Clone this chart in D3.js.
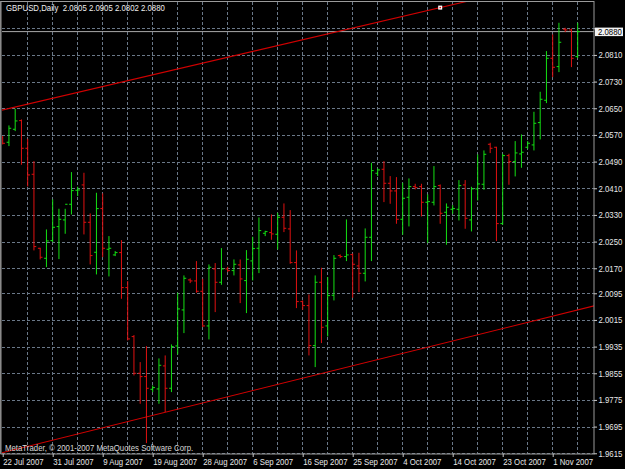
<!DOCTYPE html>
<html><head><meta charset="utf-8">
<script src="https://cdn.jsdelivr.net/npm/d3@7"></script>
<style>
html,body{margin:0;padding:0;background:#000;}
svg{display:block;}
text{font-family:"Liberation Sans",Arial,sans-serif;}
</style></head>
<body>
<script>
// ---- data ----
const symbolTitle = "GBPUSD,Daily  2.0805 2.0905 2.0802 2.0880";
const copyright = "MetaTrader, \u00A9 2001-2007 MetaQuotes Software Corp.";
const open = [2.0563,2.0548,2.0587,2.0613,2.0530,2.0452,2.0230,2.0200,2.0253,2.0295,
2.0315,2.0362,2.0404,2.0420,2.0308,2.0218,2.0349,2.0227,2.0210,2.0217,
2.0112,1.9965,1.9855,1.9845,1.9807,1.9808,1.9877,1.9810,1.9937,2.0045,
2.0135,2.0132,2.0101,1.9997,2.0168,2.0128,2.0168,2.0163,2.0180,2.0133,
2.0192,2.0230,2.0275,2.0277,2.0272,2.0323,2.0288,2.0187,2.0070,2.0058,
1.9938,2.0128,1.9997,2.0089,2.0208,2.0205,2.0211,2.0177,2.0155,2.0263,
2.0455,2.0467,2.0425,2.0402,2.0317,2.0383,2.0415,2.0415,2.0368,2.0368,
2.0418,2.0338,2.0347,2.0347,2.0420,2.0315,2.0408,2.0422,2.0542,2.0533,
2.0304,2.0508,2.0490,2.0513,2.0533,2.0540,2.0607,2.0674,2.0800,2.0775,
2.0887,2.0885,2.0805];
const high = [2.0565,2.0597,2.0647,2.0615,2.0557,2.0490,2.0230,2.0285,2.0375,2.0347,
2.0347,2.0457,2.0413,2.0455,2.0333,2.0395,2.0393,2.0265,2.0220,2.0253,
2.0130,1.9968,1.9887,1.9935,1.9817,1.9898,1.9907,1.9940,2.0095,2.0147,
2.0138,2.0190,2.0137,2.0180,2.0184,2.0229,2.0173,2.0195,2.0195,2.0223,
2.0263,2.0321,2.0281,2.0330,2.0335,2.0363,2.0343,2.0222,2.0072,2.0090,
2.0147,2.0170,2.0142,2.0208,2.0210,2.0315,2.0213,2.0215,2.0288,2.0485,
2.0468,2.0490,2.0445,2.0442,2.0425,2.0438,2.0422,2.0422,2.0390,2.0475,
2.0420,2.0363,2.0358,2.0433,2.0433,2.0413,2.0510,2.0522,2.0545,2.0533,
2.0512,2.0512,2.0550,2.0570,2.0550,2.0638,2.0698,2.0820,2.0870,2.0905,
2.0890,2.0888,2.0905];
const low = [2.0543,2.0538,2.0583,2.0482,2.0417,2.0225,2.0198,2.0175,2.0250,2.0199,
2.0275,2.0333,2.0388,2.0273,2.0183,2.0153,2.0205,2.0147,2.0208,2.0080,
1.9955,1.9850,1.9765,1.9647,1.9800,1.9765,1.9740,1.9800,1.9913,1.9977,
2.0127,2.0098,1.9995,1.9958,2.0040,2.0122,2.0160,2.0150,2.0067,2.0037,
2.0135,2.0157,2.0268,2.0257,2.0228,2.0280,2.0185,2.0052,2.0047,1.9910,
1.9875,1.9947,1.9967,2.0075,2.0202,2.0193,2.0083,2.0100,2.0132,2.0193,
2.0448,2.0370,2.0365,2.0305,2.0272,2.0297,2.0408,2.0327,2.0247,2.0360,
2.0305,2.0242,2.0335,2.0315,2.0290,2.0282,2.0375,2.0407,2.0517,2.0253,
2.0302,2.0422,2.0447,2.0473,2.0530,2.0525,2.0558,2.0667,2.0745,2.0760,
2.0880,2.0775,2.0802];
const close = [2.0545,2.0590,2.0612,2.0530,2.0450,2.0235,2.0203,2.0252,2.0293,2.0317,
2.0362,2.0403,2.0405,2.0308,2.0208,2.0349,2.0230,2.0230,2.0217,2.0112,
1.9958,1.9855,1.9845,1.9810,1.9812,1.9879,1.9810,1.9935,2.0048,2.0140,
2.0132,2.0101,1.9997,2.0173,2.0128,2.0168,2.0163,2.0182,2.0138,2.0197,
2.0229,2.0283,2.0280,2.0273,2.0323,2.0290,2.0187,2.0070,2.0058,1.9938,
2.0128,1.9993,2.0088,2.0200,2.0205,2.0210,2.0182,2.0155,2.0263,2.0463,
2.0465,2.0425,2.0402,2.0317,2.0380,2.0415,2.0412,2.0368,2.0370,2.0415,
2.0335,2.0353,2.0349,2.0418,2.0320,2.0408,2.0423,2.0512,2.0530,2.0304,
2.0508,2.0490,2.0516,2.0518,2.0545,2.0605,2.0677,2.0800,2.0773,2.0848,
2.0885,2.0800,2.0880];
// 2.0890 grid line sits under the bid label (its text is hidden there)
const priceTicks = [2.0890,2.0810,2.0730,2.0650,2.0570,2.0490,2.0410,2.0330,2.0250,2.0170,
2.0095,2.0015,1.9935,1.9855,1.9775,1.9695,1.9615];
const hiddenTick = 2.0890;
const dateTickIdx = [0,8,16,24,32,40,48,56,64,72,80,88];
const dateLabels = ["22 Jul 2007","31 Jul 2007","9 Aug 2007","19 Aug 2007","28 Aug 2007","6 Sep 2007",
"16 Sep 2007","25 Sep 2007","4 Oct 2007","14 Oct 2007","23 Oct 2007","1 Nov 2007"];
const bidPrice = 2.0880;
// trend lines: [barIndex, price] anchors
const upperTrend = [[0, 2.0645],[70, 2.0952]];
const lowerTrend = [[0, 1.9617],[92, 2.0045]];

// ---- layout ----
const W = 625, H = 469;
const L = 2, R = 594, T = 2, B = 454;
const fs = 8.5, sx = 0.92;
const x = d3.scaleLinear().domain([0, 92]).range([2.7, 577.7]);
const y = d3.scaleLinear().domain([1.96128, 2.09688]).range([B, T]);

const svg = d3.select("body").append("svg").attr("width", W).attr("height", H)
  .style("background", "#000");
svg.append("defs").append("clipPath").attr("id","plot")
  .append("rect").attr("x", L).attr("y", T).attr("width", R-L).attr("height", B-T);

const gridCol = "#6a7888";
// horizontal grid
svg.append("g").selectAll("line").data(priceTicks).join("line")
  .attr("x1", L).attr("x2", R).attr("y1", d => Math.round(y(d))+0.5).attr("y2", d => Math.round(y(d))+0.5)
  .attr("stroke", gridCol).attr("stroke-dasharray", "3,2");
// vertical grid
const vIdx = d3.range(4, 93, 4);
svg.append("g").selectAll("line").data(vIdx).join("line")
  .attr("x1", d => Math.round(x(d))-0.5).attr("x2", d => Math.round(x(d))-0.5).attr("y1", T).attr("y2", B)
  .attr("stroke", gridCol).attr("stroke-dasharray", "3,2");

// bid line
svg.append("line").attr("x1", L).attr("x2", R).attr("y1", y(bidPrice)).attr("y2", y(bidPrice))
  .attr("stroke", "#a8a8a8").attr("stroke-width", 1);

const plot = svg.append("g").attr("clip-path", "url(#plot)");
// trend lines
function trend(a){
  const slope = (a[1][1]-a[0][1])/(a[1][0]-a[0][0]);
  const x0 = -10, x1 = 110;
  return [[x0, a[0][1] + slope*(x0-a[0][0])],[x1, a[0][1] + slope*(x1-a[0][0])]];
}
[upperTrend, lowerTrend].forEach(t => {
  const p = trend(t);
  plot.append("line").attr("x1", x(p[0][0])).attr("y1", y(p[0][1]))
    .attr("x2", x(p[1][0])).attr("y2", y(p[1][1]))
    .attr("stroke", "#d00000").attr("stroke-width", 1.1);
});

// bars
const idx = d3.range(open.length);
const upC = "#14e014", dnC = "#e01010";
const bars = plot.append("g").selectAll("g").data(idx).join("g")
  .attr("stroke", i => close[i] >= open[i] ? upC : dnC).attr("stroke-width", 1);
bars.append("line").attr("x1", i => x(i)).attr("x2", i => x(i))
  .attr("y1", i => y(high[i]) - 0.5).attr("y2", i => y(low[i]) + 0.5);
bars.append("line").attr("x1", i => x(i) - 2.3).attr("x2", i => x(i))
  .attr("y1", i => y(open[i])).attr("y2", i => y(open[i]));
bars.append("line").attr("x1", i => x(i)).attr("x2", i => x(i) + 2.3)
  .attr("y1", i => y(close[i])).attr("y2", i => y(close[i]));

// trend anchor marker
const mk = upperTrend[1];
svg.append("rect").attr("x", x(mk[0]) - 2).attr("y", y(mk[1]) - 2).attr("width", 4).attr("height", 4)
  .attr("fill", "#ffffff");
svg.append("rect").attr("x", x(mk[0]) - 0.7).attr("y", y(mk[1]) - 0.7).attr("width", 1.4).attr("height", 1.4)
  .attr("fill", "#d00000");

// frame
svg.append("rect").attr("x", 1).attr("y", 1.5).attr("width", R-1).attr("height", B-1.5)
  .attr("fill", "none").attr("stroke", "#9a9a9a").attr("stroke-width", 1);
svg.append("line").attr("x1", 0.5).attr("x2", 0.5).attr("y1", 1).attr("y2", B).attr("stroke", "#8a8a8a");

// price axis
const fmt = d3.format(".4f");
const yAxis = svg.append("g").attr("transform", `translate(${R},0)`)
  .call(d3.axisRight(y).tickValues(priceTicks).tickFormat(d => d === hiddenTick ? "" : fmt(d)).tickSize(3).tickPadding(4));
yAxis.select(".domain").remove();
yAxis.selectAll(".tick line").attr("stroke", "#c8c8c8");
yAxis.selectAll(".tick text").attr("fill", "#e8e8e8").attr("font-size", fs)
  .attr("font-family", "Liberation Sans, Arial, sans-serif")
  .attr("x", 4.5/sx).attr("dy", "0.33em").attr("transform", `scale(${sx},1)`);

// bid label
const by = y(bidPrice);
svg.append("rect").attr("x", 595).attr("y", by - 4).attr("width", 28).attr("height", 8.5).attr("fill", "#f2f2f2");
svg.append("text").attr("transform", `translate(598,${by + 3}) scale(${sx},1)`)
  .attr("font-size", fs).attr("fill", "#000").text(fmt(bidPrice));

// date axis
const xAxis = svg.append("g").attr("transform", `translate(0,${B})`)
  .call(d3.axisBottom(x).tickValues(dateTickIdx).tickFormat((d, i) => dateLabels[i]).tickSize(3));
xAxis.select(".domain").remove();
xAxis.selectAll(".tick line").attr("stroke", "#c8c8c8");
xAxis.selectAll(".tick text").attr("fill", "#e8e8e8").attr("font-size", fs)
  .attr("font-family", "Liberation Sans, Arial, sans-serif")
  .attr("text-anchor", "start").attr("x", 0).attr("y", 11).attr("dy", 0)
  .attr("transform", `scale(${sx},1)`);

// title & copyright
svg.append("text").attr("transform", `translate(6,11) scale(${sx},1)`)
  .attr("font-size", fs).attr("fill", "#eeeeee").style("white-space","pre").text(symbolTitle);
svg.append("text").attr("transform", `translate(5,451) scale(${sx},1)`)
  .attr("font-size", fs).attr("fill", "#d8d8d8").text(copyright);
</script>
</body></html>
